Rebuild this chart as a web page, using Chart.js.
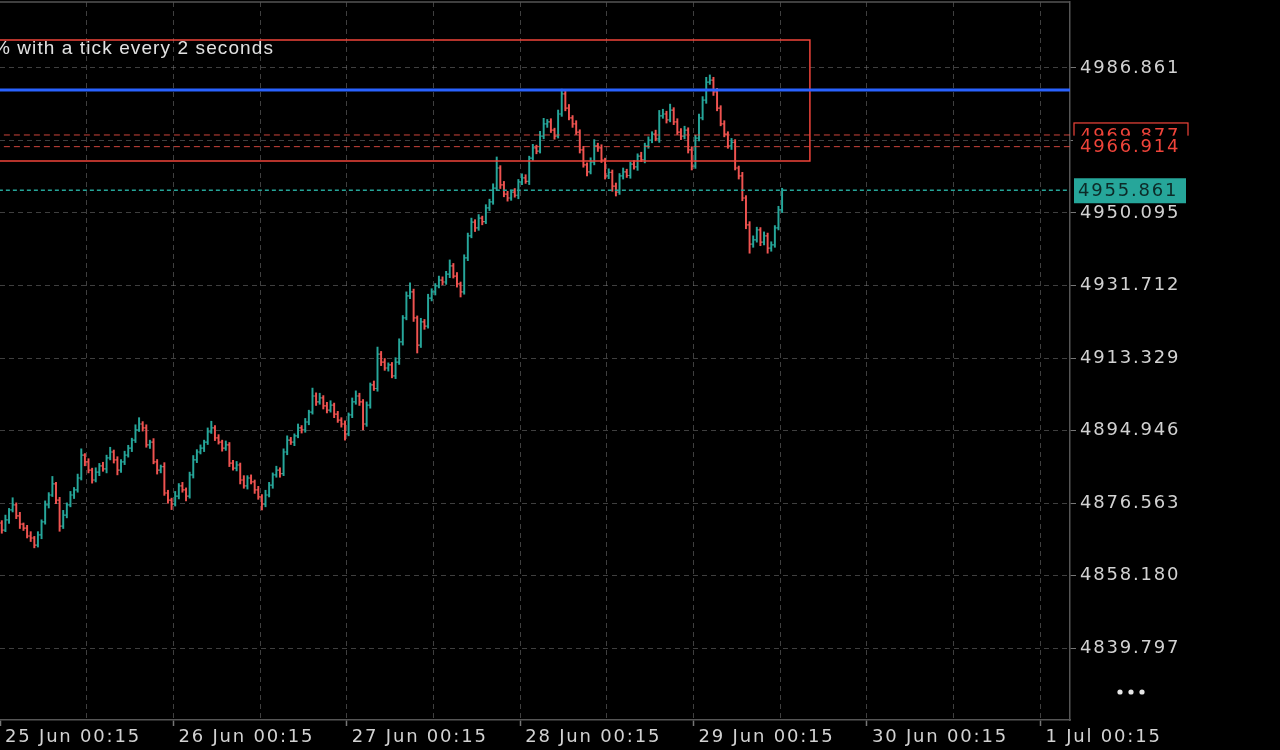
<!DOCTYPE html>
<html>
<head>
<meta charset="utf-8">
<script src="https://cdn.jsdelivr.net/npm/chart.js@4.4.1/dist/chart.umd.min.js"></script>
<style>
  html, body { margin: 0; padding: 0; background: #000; overflow: hidden; }
  #wrap { width: 1280px; height: 750px; }
</style>
</head>
<body>
<div id="wrap"><canvas id="chart" width="1280" height="750"></canvas></div>
<script>
// hours are counted from 25 Jun 00:15, one bar every 30 minutes
const firstBarHour = 0.25;
const barStep = 0.5;
const firstOpen = 4871.5;

const closes = [
  4869.7, 4872.3, 4874.8, 4876.1, 4873.3, 4871.2, 4870.2, 4868.2, 4867.7, 4865.9,
  4868.5, 4871.8, 4876.1, 4878.6, 4881.4, 4877.3, 4870.7, 4873.5, 4876.1, 4878.6,
  4879.9, 4882.9, 4888.7, 4887.0, 4884.9, 4882.4, 4884.4, 4886.0, 4885.2, 4888.0,
  4889.5, 4887.5, 4884.9, 4887.0, 4888.7, 4890.5, 4892.5, 4895.1, 4896.6, 4895.6,
  4891.3, 4892.0, 4887.0, 4884.9, 4885.8, 4879.1, 4877.3, 4876.3, 4878.3, 4880.9,
  4879.9, 4878.3, 4883.7, 4887.5, 4889.5, 4890.5, 4892.0, 4894.6, 4895.6, 4893.1,
  4892.0, 4890.5, 4891.3, 4886.7, 4885.4, 4886.2, 4882.4, 4880.9, 4882.9, 4881.9,
  4879.9, 4878.1, 4876.3, 4878.6, 4881.1, 4883.7, 4884.9, 4884.0, 4889.5, 4892.5,
  4892.0, 4893.6, 4895.6, 4895.1, 4897.1, 4899.6, 4903.7, 4902.2, 4903.2, 4901.2,
  4900.1, 4901.4, 4899.1, 4897.6, 4896.6, 4894.1, 4898.9, 4902.2, 4903.7, 4902.2,
  4896.6, 4901.4, 4906.5, 4905.6, 4914.3, 4912.3, 4910.8, 4911.6, 4908.8, 4912.3,
  4917.4, 4923.5, 4929.1, 4930.1, 4923.5, 4916.6, 4922.5, 4921.4, 4928.5, 4930.1,
  4931.6, 4933.1, 4932.6, 4934.6, 4936.7, 4934.1, 4932.1, 4930.1, 4938.7, 4944.3,
  4947.8, 4946.3, 4948.8, 4947.9, 4951.4, 4952.9, 4956.4, 4961.5, 4957.2, 4954.9,
  4953.9, 4955.4, 4954.6, 4958.0, 4959.0, 4958.1, 4964.0, 4966.6, 4965.8, 4969.6,
  4972.7, 4973.2, 4971.1, 4969.6, 4975.2, 4980.3, 4976.7, 4974.2, 4972.7, 4970.6,
  4966.1, 4962.3, 4960.5, 4963.0, 4967.1, 4966.6, 4963.5, 4959.5, 4960.4, 4956.9,
  4955.4, 4959.5, 4960.5, 4959.6, 4962.5, 4961.8, 4964.5, 4963.6, 4967.1, 4968.6,
  4970.1, 4968.9, 4974.7, 4975.2, 4973.7, 4976.2, 4973.2, 4970.6, 4969.6, 4971.1,
  4966.1, 4962.0, 4969.1, 4974.2, 4978.7, 4983.3, 4983.8, 4980.8, 4976.7, 4972.7,
  4970.1, 4967.1, 4968.0, 4961.5, 4959.5, 4953.9, 4947.1, 4942.2, 4943.3, 4945.8,
  4942.7, 4944.3, 4941.2, 4942.0, 4946.3, 4950.9, 4955.861
];

// how far each bar's high / low reaches past its open-close span
const wickUp = [
  0.6, 1.2, 0.4, 1.8, 0.5, 0.9, 0.3, 0.7, 1.1, 0.4,
  0.8, 0.5, 1.0, 0.6, 1.9, 0.4, 0.7, 1.2, 0.5, 0.9,
  0.6, 1.0, 1.6, 0.4, 0.8, 0.5, 1.1, 0.6, 0.9, 0.7,
  1.2, 0.5, 0.8, 0.6, 1.0, 0.7, 0.5, 1.3, 1.6, 0.6,
  0.8, 0.5, 0.9, 0.6, 0.4, 1.0, 0.7, 0.5, 1.2, 0.6,
  0.9, 0.5, 0.7, 1.1, 0.6, 0.8, 0.5, 1.0, 1.7, 0.6,
  0.8, 0.5, 1.0, 0.6, 0.7, 0.9, 0.5, 1.1, 0.6, 0.8,
  0.5, 0.9, 0.6, 1.2, 0.7, 0.5, 1.0, 0.6, 0.8, 1.1,
  0.7, 0.5, 1.0, 0.6, 0.9, 0.5, 2.0, 0.8, 1.2, 0.6,
  0.9, 1.1, 0.5, 0.7, 0.6, 0.8, 0.5, 1.0, 1.3, 0.7,
  0.6, 0.8, 0.5, 1.0, 1.8, 0.7, 0.9, 0.5, 0.6, 1.1,
  0.8, 0.6, 1.0, 2.3, 0.7, 0.5, 0.9, 0.6, 1.0, 0.8,
  0.6, 1.0, 0.8, 0.7, 1.5, 0.6, 0.9, 0.5, 0.8, 0.7,
  1.0, 0.6, 0.9, 0.5, 0.8, 0.7, 1.1, 2.8, 0.6, 0.9,
  0.7, 0.5, 0.9, 0.6, 1.0, 0.8, 0.5, 0.9, 0.7, 1.2,
  1.4, 0.6, 0.8, 0.5, 1.0, 1.2, 0.7, 0.9, 0.6, 0.8,
  0.6, 0.9, 0.5, 1.1, 1.6, 0.7, 0.8, 0.5, 0.9, 0.6,
  0.8, 0.6, 1.0, 0.7, 0.5, 0.9, 0.6, 1.0, 0.7, 0.8,
  0.6, 1.0, 1.4, 1.2, 0.7, 1.5, 0.6, 0.8, 0.9, 1.0,
  0.6, 0.8, 0.7, 1.0, 0.9, 1.2, 1.3, 0.7, 0.9, 0.6,
  0.8, 0.6, 1.0, 0.7, 0.5, 0.9, 0.6, 0.8, 1.0, 0.7,
  0.6, 1.0, 0.7, 0.8, 0.6, 0.9, 0.5
];
const wickDown = [
  0.8, 0.4, 0.9, 0.5, 0.7, 1.1, 0.6, 0.5, 0.9, 0.7,
  0.5, 1.0, 0.6, 0.8, 0.4, 0.9, 1.3, 0.6, 0.7, 0.5,
  0.9, 0.6, 0.5, 1.0, 0.7, 0.8, 0.5, 0.9, 0.6, 1.0,
  0.5, 0.8, 1.2, 0.6, 0.7, 0.5, 0.9, 0.6, 0.4, 0.8,
  0.6, 0.9, 0.5, 1.0, 0.7, 0.6, 0.8, 1.4, 0.5, 0.7,
  0.6, 1.2, 0.5, 0.8, 0.7, 0.5, 0.9, 0.6, 0.4, 0.7,
  0.5, 0.8, 0.6, 0.9, 0.5, 0.7, 1.0, 0.6, 0.8, 0.5,
  0.9, 0.6, 1.5, 0.7, 0.5, 0.8, 0.6, 0.9, 0.5, 0.7,
  0.6, 0.9, 0.5, 0.8, 0.6, 0.7, 0.5, 0.9, 0.6, 0.8,
  0.7, 0.5, 0.9, 0.6, 0.8, 1.6, 0.5, 0.7, 0.6, 0.9,
  1.5, 0.6, 0.8, 0.5, 0.7, 0.9, 0.6, 0.8, 0.5, 0.7,
  0.6, 0.8, 0.5, 0.7, 0.9, 2.0, 0.6, 0.8, 0.5, 0.7,
  0.8, 0.5, 0.7, 0.6, 0.9, 0.5, 0.8, 1.3, 0.6, 0.7,
  0.5, 0.9, 0.6, 0.8, 0.5, 0.7, 0.6, 0.5, 0.9, 0.7,
  0.8, 0.6, 0.5, 0.9, 0.7, 0.5, 0.8, 0.6, 0.7, 0.5,
  0.7, 0.9, 0.6, 0.8, 0.5, 0.6, 0.7, 0.5, 0.9, 0.6,
  0.8, 0.6, 1.0, 0.5, 0.7, 0.9, 0.6, 0.8, 0.7, 1.3,
  1.0, 0.6, 0.8, 0.5, 0.7, 0.6, 0.9, 0.5, 0.8, 0.6,
  0.7, 0.5, 0.9, 0.6, 0.8, 0.5, 0.7, 0.6, 0.9, 0.7,
  0.8, 1.0, 0.6, 0.7, 0.5, 0.8, 0.6, 0.9, 0.7, 0.5,
  0.7, 0.6, 0.9, 0.5, 0.8, 0.7, 1.0, 2.3, 0.8, 0.6,
  0.9, 0.7, 1.3, 0.8, 0.6, 0.5, 0.7
];

const dayLabels = ['25 Jun 00:15', '26 Jun 00:15', '27 Jun 00:15', '28 Jun 00:15',
                   '29 Jun 00:15', '30 Jun 00:15', '1 Jul 00:15'];
const yTicks = [4839.797, 4858.180, 4876.563, 4894.946, 4913.329, 4931.712, 4950.095, 4968.478, 4986.861];
const xMin = 0, xMax = 148.1;
const yMin = 4821.55, yMax = 5003.59;

const blueLevel = 4981.28;
const zoneTop = 4993.96, zoneBottom = 4963.28, zoneEndHour = 112.1;
const redLevels = [4969.877, 4966.914];
const lastPrice = 4955.861;
const descText = 'Volatility 25 Index: constant volatility of 25% with a tick every 2 seconds';

const upColor = '#26a69a', downColor = '#ef5350', zoneRed = '#f0443a';
const gridColor = 'rgba(125,125,125,0.5)', axisColor = '#555', labelColor = '#d2d2d2';
const axisFont = { family: '"DejaVu Sans", sans-serif', size: 18 };

const hours = closes.map((_, i) => firstBarHour + i * barStep);
const opens = [firstOpen].concat(closes.slice(0, -1));
const highs = closes.map((c, i) => Math.max(c, opens[i]) + wickUp[i]);
const lows = closes.map((c, i) => Math.min(c, opens[i]) - wickDown[i]);
const barColors = closes.map((c, i) => c >= opens[i] ? upColor : downColor);

const hline = (y, x0, x1) => [{ x: x0, y }, { x: x1, y }];

// open tick on the left, close tick on the right of each high-low bar
const ohlcTicks = {
  id: 'ohlcTicks',
  afterDatasetDraw(chart, args) {
    if (args.index !== 0) return;
    const { ctx, chartArea: a, scales: { x, y } } = chart;
    ctx.save();
    ctx.beginPath();
    ctx.rect(a.left, a.top, a.width, a.height);
    ctx.clip();
    ctx.lineWidth = 1.2;
    hours.forEach((h, i) => {
      const px = x.getPixelForValue(h);
      const yo = y.getPixelForValue(opens[i]);
      const yc = y.getPixelForValue(closes[i]);
      ctx.strokeStyle = barColors[i];
      ctx.beginPath();
      ctx.moveTo(px - 1.8, yo); ctx.lineTo(px, yo);
      ctx.moveTo(px, yc); ctx.lineTo(px + 1.8, yc);
      ctx.stroke();
    });
    ctx.restore();
  }
};

const overlay = {
  id: 'overlay',
  beforeDraw(chart) {
    chart.ctx.letterSpacing = '1.8px';
  },
  afterDraw(chart) {
    const { ctx, chartArea: a, scales: { y } } = chart;
    ctx.save();
    ctx.strokeStyle = axisColor;
    ctx.lineWidth = 1.5;
    ctx.beginPath();
    ctx.moveTo(a.left, a.top); ctx.lineTo(a.right, a.top);
    ctx.stroke();

    ctx.letterSpacing = '1.1px';
    ctx.font = '19px "Liberation Sans", Arial, sans-serif';
    ctx.fillStyle = '#e2e2e2';
    ctx.textAlign = 'right';
    ctx.textBaseline = 'alphabetic';
    ctx.fillText(descText, 274, 54);

    ctx.letterSpacing = '1.8px';
    ctx.font = '18px "DejaVu Sans", sans-serif';
    ctx.textAlign = 'left';
    ctx.textBaseline = 'middle';
    const bx = a.right + 4, bw = 114, tx = a.right + 10;

    let py = y.getPixelForValue(redLevels[0]);
    ctx.fillStyle = '#000';
    ctx.fillRect(bx, py - 12, bw, 24);
    ctx.strokeStyle = zoneRed;
    ctx.lineWidth = 1.2;
    ctx.strokeRect(bx, py - 12, bw, 24);
    ctx.fillStyle = zoneRed;
    ctx.fillText(redLevels[0].toFixed(3), tx, py + 1);

    py = y.getPixelForValue(redLevels[1]);
    ctx.fillStyle = '#000';
    ctx.fillRect(bx - 1, py - 11, bw + 4, 23);
    ctx.fillStyle = zoneRed;
    ctx.fillText(redLevels[1].toFixed(3), tx, py + 1);

    py = y.getPixelForValue(lastPrice);
    ctx.fillStyle = upColor;
    ctx.fillRect(bx, py - 12, bw - 2, 25);
    ctx.fillStyle = '#0c2b28';
    ctx.fillText(lastPrice.toFixed(3), tx - 2, py + 1);

    ctx.fillStyle = '#e6e6e6';
    [1120, 1131, 1142].forEach(cx => {
      ctx.beginPath();
      ctx.arc(cx, 692, 2.6, 0, Math.PI * 2);
      ctx.fill();
    });
    ctx.restore();
  }
};

const noPadding = s => {
  s.paddingTop = 0; s.paddingBottom = 0; s.paddingLeft = 0; s.paddingRight = 0;
};

new Chart(document.getElementById('chart'), {
  type: 'bar',
  data: {
    datasets: [
      {
        type: 'bar',
        data: hours.map((h, i) => ({ x: h, y: [lows[i], highs[i]] })),
        backgroundColor: barColors,
        barThickness: 1.3,
        order: 5
      },
      {
        type: 'line', data: hline(blueLevel, -5, xMax),
        borderColor: '#2962ff', borderWidth: 3, pointRadius: 0, order: 1
      },
      {
        type: 'line',
        data: [{ x: -5, y: zoneTop }, { x: zoneEndHour, y: zoneTop },
               { x: zoneEndHour, y: zoneBottom }, { x: -5, y: zoneBottom }],
        borderColor: zoneRed, borderWidth: 1.5, pointRadius: 0, order: 1
      },
      {
        type: 'line', data: hline(redLevels[0], -5, xMax),
        borderColor: 'rgba(240,80,70,0.85)', borderWidth: 1, borderDash: [6, 4], pointRadius: 0, order: 2
      },
      {
        type: 'line', data: hline(redLevels[1], -5, xMax),
        borderColor: 'rgba(240,80,70,0.85)', borderWidth: 1, borderDash: [6, 4], pointRadius: 0, order: 2
      },
      {
        type: 'line', data: hline(lastPrice, -5, xMax),
        borderColor: upColor, borderWidth: 1.3, borderDash: [4, 3], pointRadius: 0, order: 2
      }
    ]
  },
  options: {
    responsive: false,
    animation: false,
    devicePixelRatio: 1,
    layout: { padding: { top: 2, left: 0, right: 0, bottom: 0 } },
    plugins: { legend: { display: false }, tooltip: { enabled: false } },
    scales: {
      x: {
        type: 'linear',
        min: xMin,
        max: xMax,
        offset: false,
        grid: {
          offset: false,
          color: c => (c.tick && c.tick.value === 0) ? 'rgba(0,0,0,0)' : gridColor,
          tickLength: 6,
          tickColor: c => (c.tick && c.tick.value % 24 === 0) ? '#777' : 'rgba(0,0,0,0)',
          tickBorderDash: [],
          tickWidth: 1.5
        },
        border: { color: axisColor, width: 1.5, dash: [5, 4] },
        ticks: {
          stepSize: 12,
          includeBounds: false,
          autoSkip: false,
          maxRotation: 0,
          align: 'start',
          labelOffset: 5,
          padding: 1,
          color: labelColor,
          font: axisFont,
          callback: v => v % 24 === 0 ? dayLabels[v / 24] : ''
        },
        afterFit: s => { s.height = 30; noPadding(s); }
      },
      y: {
        type: 'linear',
        position: 'right',
        min: yMin,
        max: yMax,
        afterBuildTicks: s => { s.ticks = yTicks.map(v => ({ value: v })); },
        grid: { color: gridColor, tickLength: 6, tickColor: '#777', tickBorderDash: [] },
        border: { color: axisColor, width: 1.5, dash: [5, 4] },
        ticks: { color: labelColor, font: axisFont, padding: 4, callback: v => v.toFixed(3) },
        afterFit: s => { s.width = 210; noPadding(s); }
      }
    }
  },
  plugins: [ohlcTicks, overlay]
});
</script>
</body>
</html>
